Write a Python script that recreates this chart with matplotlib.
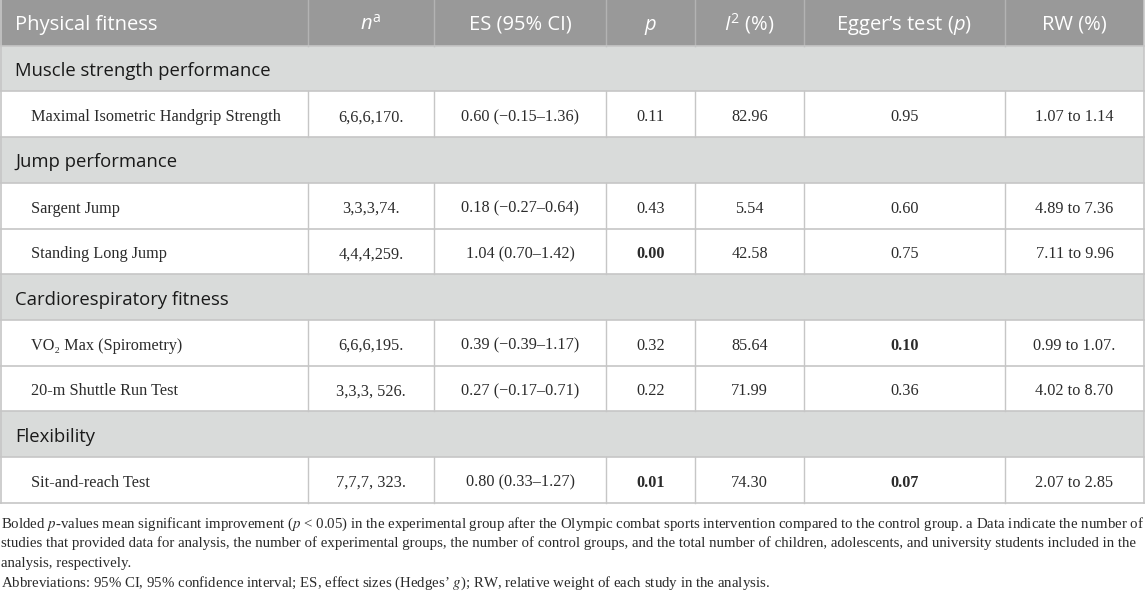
import matplotlib
matplotlib.use("Agg")
import matplotlib.pyplot as plt
from matplotlib.patches import Rectangle

plt.rcParams["mathtext.fontset"] = "custom"
plt.rcParams["mathtext.rm"] = "Open Sans"
plt.rcParams["mathtext.it"] = "Open Sans:italic"
plt.rcParams["mathtext.bf"] = "Open Sans:bold"

# table content
headers = ["Physical fitness", r"$n^{\mathrm{a}}$", "ES (95% CI)", r"$p$",
           r"$I^{2}$ (%)", r"Egger’s test ($p$)", "RW (%)"]
sections = ["Muscle strength performance", "Jump performance",
            "Cardiorespiratory fitness", "Flexibility"]
section_of_test = [0, 1, 1, 2, 2, 3]
tests = ["Maximal Isometric Handgrip Strength", "Sargent Jump", "Standing Long Jump",
         "VO\u2082 Max (Spirometry)", "20-m Shuttle Run Test", "Sit-and-reach Test"]
n_vals = ["6,6,6,170.", "3,3,3,74.", "4,4,4,259.", "6,6,6,195.", "3,3,3, 526.", "7,7,7, 323."]
es_vals = ["0.60 (\u22120.15\u20131.36)", "0.18 (\u22120.27\u20130.64)", "1.04 (0.70\u20131.42)",
           "0.39 (\u22120.39\u20131.17)", "0.27 (\u22120.17\u20130.71)", "0.80 (0.33\u20131.27)"]
p_vals = ["0.11", "0.43", "0.00", "0.32", "0.22", "0.01"]
i2_vals = ["82.96", "5.54", "42.58", "85.64", "71.99", "74.30"]
egger_vals = ["0.95", "0.60", "0.75", "0.10", "0.36", "0.07"]
rw_vals = ["1.07 to 1.14", "4.89 to 7.36", "7.11 to 9.96", "0.99 to 1.07.",
           "4.02 to 8.70", "2.07 to 2.85"]
p_bold = [False, False, True, False, False, True]
egger_bold = [False, False, False, True, False, True]

footnote = [
    r"Bolded $p$-values mean significant improvement ($p$ < 0.05) in the experimental group after the Olympic combat sports intervention compared to the control group. a Data indicate the number of",
    "studies that provided data for analysis, the number of experimental groups, the number of control groups, and the total number of children, adolescents, and university students included in the",
    "analysis, respectively.",
    r"Abbreviations: 95% CI, 95% confidence interval; ES, effect sizes (Hedges’ $g$); RW, relative weight of each study in the analysis.",
]
foot_base = [528, 547.5, 567, 586.5]

col_x = [0, 308, 434, 606, 695, 804, 1005, 1144]
row_h = 45.7
head_bg = "#999999"
sect_bg = "#d9dbda"
grid = "#c6c6c6"
sans = "Open Sans"
serif = "Liberation Serif"

fig = plt.figure(figsize=(11.45, 5.92), dpi=100)
ax = fig.add_axes([0, 0, 1, 1])
ax.set_xlim(0, 1145)
ax.set_ylim(592, 0)
ax.axis("off")

# build row list
rows = []
last = -1
for i, s in enumerate(section_of_test):
    if s != last:
        rows.append(("sect", s))
        last = s
    rows.append(("data", i))

# header
ax.add_patch(Rectangle((0, 0), col_x[-1], row_h, color=head_bg, lw=0))
for j, h in enumerate(headers):
    if j == 0:
        ax.text(15, row_h / 2 + 7, h, color="white", fontsize=14.5, family=sans,
                va="baseline", ha="left", math_fontfamily="custom")
    else:
        ax.text((col_x[j] + col_x[j + 1]) / 2, row_h / 2 + 7, h, color="white", fontsize=14.5,
                family=sans, va="baseline", ha="center", math_fontfamily="custom")
for x in col_x[1:-1]:
    ax.plot([x, x], [0, row_h], color="#b3b3b3", lw=1)

y = row_h
for kind, k in rows:
    yc = y + row_h / 2
    if kind == "sect":
        ax.add_patch(Rectangle((0, y), col_x[-1], row_h, color=sect_bg, lw=0))
        ax.text(15, yc + 7.5, sections[k], fontsize=13.3, family=sans, color="#1a1a1a",
                va="baseline", ha="left")
    else:
        ax.text(31, yc + 7, tests[k], fontsize=11.7, family=serif, color="#2b2b2b",
                va="baseline", ha="left")
        vals = [n_vals[k], es_vals[k], p_vals[k], i2_vals[k], egger_vals[k], rw_vals[k]]
        bolds = [False, False, p_bold[k], False, egger_bold[k], False]
        for j, v in enumerate(vals):
            ax.text((col_x[j + 1] + col_x[j + 2]) / 2, yc + 7, v, fontsize=11.7, family=serif,
                    color="#2b2b2b", va="baseline", ha="center",
                    fontweight="bold" if bolds[j] else "normal")
        for x in col_x[1:-1]:
            ax.plot([x, x], [y, y + row_h], color=grid, lw=1)
    ax.plot([0, col_x[-1]], [y, y], color=grid, lw=1.2)
    y += row_h
ax.plot([0, col_x[-1]], [y, y], color=grid, lw=1.2)
ax.plot([0.5, 0.5], [0, y], color=grid, lw=1.2)
ax.plot([col_x[-1], col_x[-1]], [0, y], color=grid, lw=1.2)

# footnote
for line, fb in zip(footnote, foot_base):
    ax.text(1, fb, line, fontsize=10.7, family=serif, color="#2b2b2b",
            va="baseline", ha="left", math_fontfamily="stix")

fig.savefig("out.png", dpi=100)
